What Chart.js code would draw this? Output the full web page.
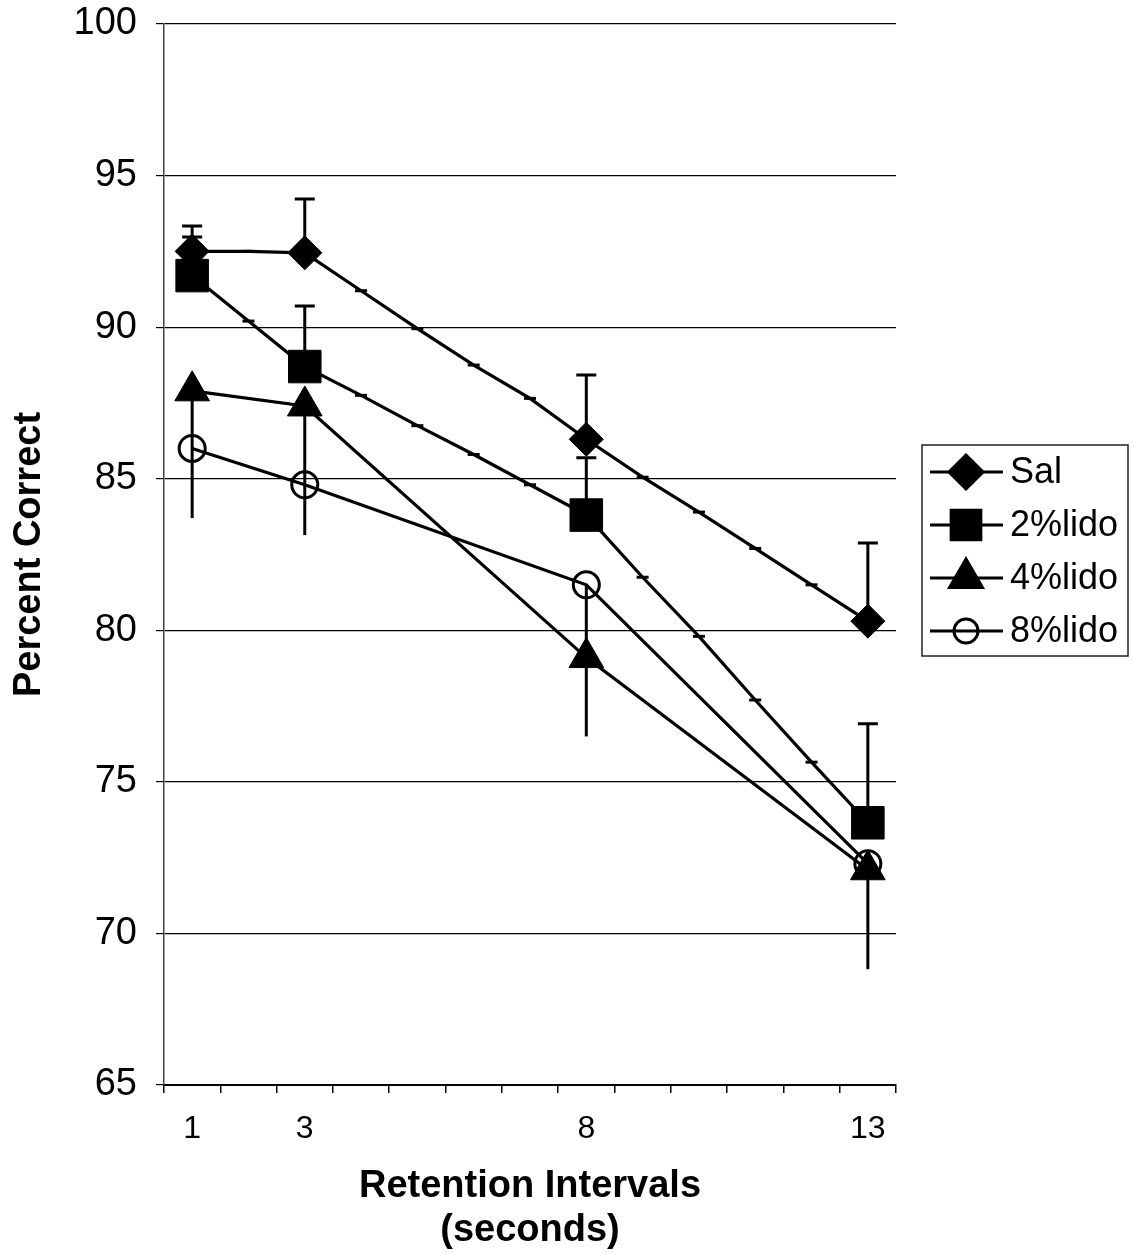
<!DOCTYPE html>
<html>
<head>
<meta charset="utf-8">
<script src="https://cdn.jsdelivr.net/npm/chart.js@4.4.1/dist/chart.umd.min.js"></script>
<style>
  html, body { margin: 0; padding: 0; background: #fff; }
</style>
</head>
<body>
<canvas id="chart" width="1133" height="1254"></canvas>
<script>
// data
const seriesNames = ["Sal", "2%lido", "4%lido", "8%lido"];
const retentionTicks = [1, 3, 8, 13];
const allIntervals = [1, 2, 3, 4, 5, 6, 7, 8, 9, 10, 11, 12, 13];
const salValues = [92.5, 92.5, 92.45, 91.2, 89.95, 88.75, 87.65, 86.3, 85.05, 83.9, 82.7, 81.5, 80.3];
const lido2Values = [91.7, 90.2, 88.7, 87.75, 86.75, 85.8, 84.8, 83.8, 81.75, 79.8, 77.7, 75.65, 73.65];
const lido4Values = [87.9, 87.4, 79.1, 72.1];
const lido8Values = [86.0, 84.8, 81.5, 72.3];
const salErrPlus = [0.84, 1.78, 2.12, 2.58];
const lido2ErrPlus = [1.27, 2.0, 1.89, 3.27];
const lido4ErrMinus = [4.2, 4.26, 2.6, 3.28];
const lido8ErrMinus = [0, 0, 2.4, 0];
const yTicks = [65, 70, 75, 80, 85, 90, 95, 100];
const xTickMarks = [0.5, 1.5, 2.5, 3.5, 4.5, 5.5, 6.5, 7.5, 8.5, 9.5, 10.5, 11.5, 12.5, 13.5];

const FONT = "'Liberation Sans', Arial, sans-serif";

function pts(xs, ys) {
  return xs.map((x, i) => ({ x: x, y: ys[i] }));
}

const markers = [
  { style: 'rectRot', radius: 17, fill: '#000', legendRadius: 17 },
  { style: 'rect', radius: 23, fill: '#000', legendRadius: 21 },
  { style: 'triangle', radius: 20, fill: '#000', legendRadius: 19 },
  { style: 'circle', radius: 13, fill: 'rgba(0,0,0,0)', legendRadius: 12 }
];

function makeSet(idx, data, errPlus, errMinus) {
  const m = markers[idx];
  const isMain = ctx => ctx.raw && retentionTicks.includes(ctx.raw.x);
  return {
    label: seriesNames[idx],
    data: data,
    errPlus: errPlus,
    errMinus: errMinus,
    borderColor: '#000',
    borderWidth: 3.2,
    tension: 0,
    pointStyle: ctx => isMain(ctx) ? m.style : 'line',
    pointRadius: ctx => isMain(ctx) ? m.radius : 6,
    pointBorderWidth: ctx => isMain(ctx) ? (m.style === 'circle' ? 3 : 1) : 3,
    pointBackgroundColor: m.fill,
    pointBorderColor: '#000'
  };
}

const errorBars = {
  id: 'errorBars',
  afterDatasetsDraw(chart) {
    const ctx = chart.ctx;
    const xs = chart.scales.x, ys = chart.scales.y;
    ctx.save();
    ctx.strokeStyle = '#000';
    ctx.lineWidth = 3;
    chart.data.datasets.forEach(ds => {
      retentionTicks.forEach((t, i) => {
        const p = ds.data.find(d => d.x === t);
        if (!p) return;
        const px = xs.getPixelForValue(t);
        const py = ys.getPixelForValue(p.y);
        if (ds.errPlus && ds.errPlus[i] > 0) {
          const top = ys.getPixelForValue(p.y + ds.errPlus[i]);
          ctx.beginPath();
          ctx.moveTo(px, py); ctx.lineTo(px, top);
          ctx.moveTo(px - 10, top); ctx.lineTo(px + 10, top);
          ctx.stroke();
        }
        if (ds.errMinus && ds.errMinus[i] > 0) {
          const bot = ys.getPixelForValue(p.y - ds.errMinus[i]);
          ctx.beginPath();
          ctx.moveTo(px, py); ctx.lineTo(px, bot);
          ctx.stroke();
        }
      });
    });
    ctx.restore();
  }
};

const sideLegend = {
  id: 'sideLegend',
  afterDraw(chart) {
    const ctx = chart.ctx;
    const box = { x: 922, y: 445, w: 206, h: 211 };
    ctx.save();
    ctx.strokeStyle = '#222';
    ctx.lineWidth = 1.5;
    ctx.strokeRect(box.x, box.y, box.w, box.h);
    ctx.font = '36px ' + FONT;
    ctx.textBaseline = 'middle';
    ctx.fillStyle = '#000';
    chart.data.datasets.forEach((ds, i) => {
      const y = 472 + i * 53;
      const m = markers[i];
      ctx.strokeStyle = '#000';
      ctx.lineWidth = 3;
      ctx.beginPath();
      ctx.moveTo(930, y); ctx.lineTo(1003, y);
      ctx.stroke();
      ctx.fillStyle = m.fill;
      Chart.helpers.drawPoint(ctx, {
        pointStyle: m.style, radius: m.legendRadius, rotation: 0,
        borderWidth: m.style === 'circle' ? 3 : 1
      }, 966, y);
      ctx.fillStyle = '#000';
      ctx.fillText(ds.label, 1010, y + 1);
    });
    ctx.restore();
  }
};

new Chart(document.getElementById('chart'), {
  type: 'line',
  data: {
    datasets: [
      makeSet(0, pts(allIntervals, salValues), salErrPlus, null),
      makeSet(1, pts(allIntervals, lido2Values), lido2ErrPlus, null),
      makeSet(2, pts(retentionTicks, lido4Values), null, lido4ErrMinus),
      makeSet(3, pts(retentionTicks, lido8Values), null, lido8ErrMinus)
    ]
  },
  options: {
    responsive: false,
    animation: false,
    devicePixelRatio: 1,
    layout: { padding: { top: 24, right: 237, left: 0, bottom: 0 } },
    plugins: { legend: { display: false }, tooltip: { enabled: false } },
    scales: {
      x: {
        type: 'linear',
        min: 0.5,
        max: 13.5,
        afterBuildTicks: s => {
          s.ticks = xTickMarks.concat(retentionTicks).sort((a, b) => a - b).map(v => ({ value: v }));
        },
        afterFit: s => { s.height = 169; s.paddingLeft = 0; s.paddingRight = 0; },
        grid: {
          drawOnChartArea: false,
          tickLength: 8,
          lineWidth: 1.5,
          color: ctx => (ctx.tick && Number.isInteger(ctx.tick.value)) ? 'rgba(0,0,0,0)' : '#000'
        },
        border: { display: true, color: '#000', width: 2 },
        ticks: {
          autoSkip: false,
          maxRotation: 0,
          padding: 17,
          color: '#000',
          font: { family: FONT, size: 32 },
          callback: v => retentionTicks.includes(v) ? String(v) : ''
        },
        title: {
          display: true,
          text: ['Retention Intervals', '(seconds)'],
          color: '#000',
          font: { family: FONT, size: 38, weight: 'bold', lineHeight: 1.15 },
          padding: { top: 0, bottom: 2 }
        }
      },
      y: {
        min: 65,
        max: 100,
        afterBuildTicks: s => { s.ticks = yTicks.map(v => ({ value: v })); },
        afterFit: s => { s.width = 164; s.paddingTop = 0; s.paddingBottom = 0; },
        grid: { color: '#000', lineWidth: 1.2, tickLength: 8 },
        border: { display: true, color: '#444', width: 1.5 },
        ticks: {
          padding: 19,
          color: '#000',
          font: { family: FONT, size: 38 }
        },
        title: {
          display: true,
          text: 'Percent Correct',
          color: '#000',
          font: { family: FONT, size: 38, weight: 'bold', lineHeight: 1.15 },
          padding: { top: 8, bottom: 0 }
        }
      }
    }
  },
  plugins: [errorBars, sideLegend]
});
</script>
</body>
</html>
